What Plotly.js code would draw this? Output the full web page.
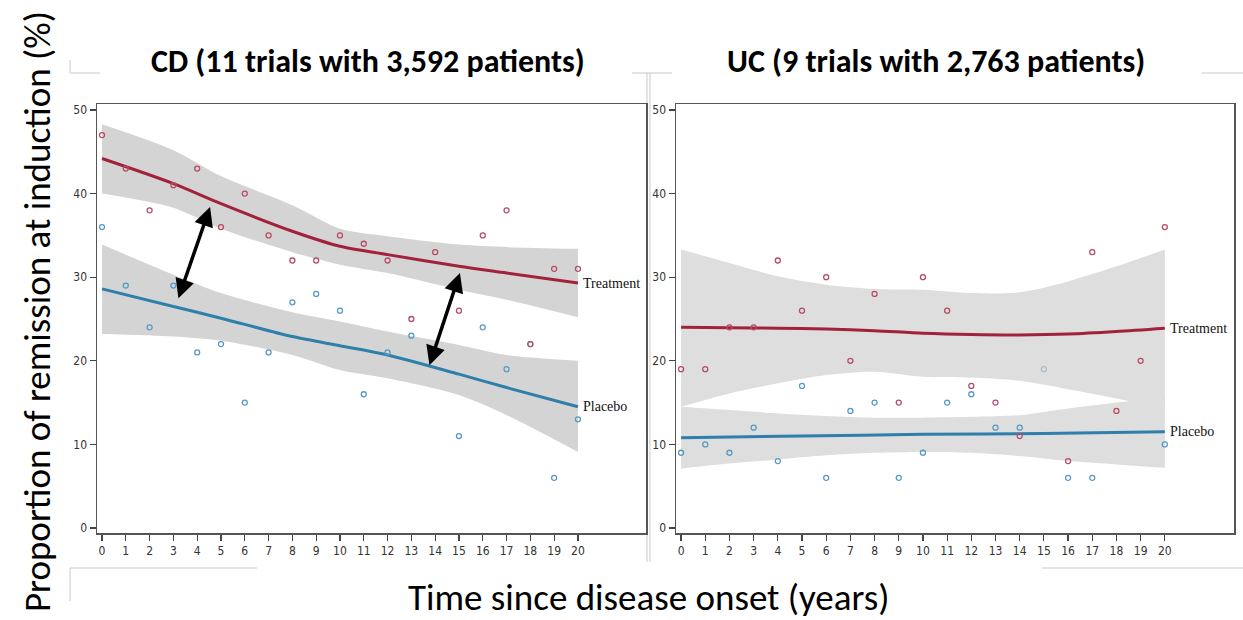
<!DOCTYPE html>
<html>
<head>
<meta charset="utf-8">
<script src="https://cdn.plot.ly/plotly-3.0.1.min.js"></script>
<style>
  html, body { margin: 0; padding: 0; background: #ffffff; }
  #chart { width: 1243px; height: 620px; }
</style>
</head>
<body>
<div id="chart"></div>
<script>
// ---- Crohn's disease (CD): observed remission rates by years since onset ----
const cdTreatX   = [0,1,2,3,4,5,6,7,8,9,10,11,12,13,14,15,16,17,18,19,20];
const cdTreatY   = [47,43,38,41,43,36,40,35,32,32,35,34,32,25,33,26,35,38,22,31,31];
const cdPlaceboX = [0,1,2,3,4,5,6,7,8,9,10,11,12,13,15,16,17,18,19,20];
const cdPlaceboY = [36,29,24,29,21,22,15,21,27,28,26,16,21,23,11,24,19,22,6,13];

// CD fitted curves and 95% confidence bands
const cdFitX          = [0,3,5,8,10,12,15,17,20];
const cdTreatFit      = [44.2,41.2,38.8,35.5,33.7,32.7,31.3,30.5,29.3];
const cdTreatUpper    = [48.3,45.2,42.1,38.6,35.8,34.9,33.9,33.6,33.4];
const cdTreatLower    = [40.0,38.3,35.8,33.0,31.5,30.5,28.5,27.3,25.2];
const cdPlaceboFit    = [28.6,26.5,25.1,22.9,21.8,20.7,18.4,16.8,14.5];
const cdPlaceboUpper  = [33.9,30.3,28.1,25.8,24.7,23.5,21.9,20.7,20.0];
const cdPlaceboLower  = [23.2,22.9,22.4,20.7,18.9,17.9,15.9,13.5,9.1];

// ---- Ulcerative colitis (UC): observed remission rates ----
const ucTreatX   = [0,1,2,3,4,5,6,7,8,9,10,11,12,13,14,16,17,18,19,20];
const ucTreatY   = [19,19,24,24,32,26,30,20,28,15,30,26,17,15,11,8,33,14,20,36];
const ucPlaceboX = [0,1,2,3,4,5,6,7,8,9,10,11,12,13,14,16,17,20];
const ucPlaceboY = [9,10,9,12,8,17,6,14,15,6,9,15,16,12,12,6,6,10];
const ucPaleX    = [15];
const ucPaleY    = [19];

// UC fitted curves and 95% confidence bands
const ucFitX          = [0,2,4,6,8,10,12,14,16,18,20];
const ucTreatFit      = [24.0,23.95,23.9,23.8,23.6,23.3,23.15,23.1,23.2,23.5,23.9];
const ucTreatUpper    = [33.3,31.7,30.1,29.1,28.6,28.5,28.1,28.2,29.5,31.3,33.3];
const ucTreatLower    = [14.5,16.1,17.3,18.3,18.7,18.1,18.0,17.6,16.6,15.5,14.4];
const ucPlaceboFitX   = [0,5,10,15,20];
const ucPlaceboFit    = [10.8,11.0,11.2,11.3,11.5];
const ucPlaceboUpper  = [14.5,14.1,13.7,13.4,13.2,13.2,13.3,13.5,14.3,15.0,15.8];
const ucPlaceboLower  = [7.1,7.7,8.2,8.7,9.0,9.1,9.0,8.6,8.0,7.6,7.2];

// Axis tick values
const yTicks = [0,10,20,30,40,50];
const xTicks = [0,1,2,3,4,5,6,7,8,9,10,11,12,13,14,15,16,17,18,19,20];

const panelTitles = ['CD (11 trials with 3,592 patients)', 'UC (9 trials with 2,763 patients)'];
const yTitle = 'Proportion of remission at induction (%)';
const xTitle = 'Time since disease onset (years)';
const seriesNames = ['Treatment', 'Placebo'];

// ---- styling ----
const RED_LINE = '#a3223b', BLUE_LINE = '#2f7fab';
const RED_PT = '#b84a64', BLUE_PT = '#5799c4', PALE_PT = '#a9bccb';
const CD_BAND = '#d4d4d4', UC_BAND = '#dedede';
const TICK_FONT = {family: '"Liberation Sans Narrow", "DejaVu Sans Condensed", sans-serif', size: 12, color: '#333'};
const HEAD_FONT = 'Carlito, "Liberation Sans Narrow", "DejaVu Sans Condensed", sans-serif';

function band(x, lo, hi, color, xa, ya) {
  return [
    {x: x, y: lo, xaxis: xa, yaxis: ya, type: 'scatter', mode: 'lines',
     line: {width: 0, shape: 'spline', smoothing: 0.8}, hoverinfo: 'skip', showlegend: false},
    {x: x, y: hi, xaxis: xa, yaxis: ya, type: 'scatter', mode: 'lines', fill: 'tonexty',
     fillcolor: color, line: {width: 0, shape: 'spline', smoothing: 0.8}, hoverinfo: 'skip', showlegend: false}
  ];
}
function fit(x, y, color, xa, ya) {
  return {x: x, y: y, xaxis: xa, yaxis: ya, type: 'scatter', mode: 'lines',
          line: {color: color, width: 3, shape: 'spline', smoothing: 0.8}, showlegend: false};
}
function pts(x, y, color, xa, ya) {
  return {x: x, y: y, xaxis: xa, yaxis: ya, type: 'scatter', mode: 'markers',
          marker: {symbol: 'circle-open', size: 5, color: color, line: {width: 1.3, color: color}},
          showlegend: false};
}

const traces = [].concat(
  band(cdFitX, cdTreatLower, cdTreatUpper, CD_BAND, 'x', 'y'),
  band(cdFitX, cdPlaceboLower, cdPlaceboUpper, CD_BAND, 'x', 'y'),
  band(ucFitX, ucTreatLower, ucTreatUpper, UC_BAND, 'x2', 'y2'),
  band(ucFitX, ucPlaceboLower, ucPlaceboUpper, UC_BAND, 'x2', 'y2'),
  [
    fit(cdFitX, cdTreatFit, RED_LINE, 'x', 'y'),
    fit(cdFitX, cdPlaceboFit, BLUE_LINE, 'x', 'y'),
    fit(ucFitX, ucTreatFit, RED_LINE, 'x2', 'y2'),
    fit(ucPlaceboFitX, ucPlaceboFit, BLUE_LINE, 'x2', 'y2'),
    pts(cdPlaceboX, cdPlaceboY, BLUE_PT, 'x', 'y'),
    pts(cdTreatX, cdTreatY, RED_PT, 'x', 'y'),
    pts(ucPlaceboX, ucPlaceboY, BLUE_PT, 'x2', 'y2'),
    pts(ucTreatX, ucTreatY, RED_PT, 'x2', 'y2'),
    pts(ucPaleX, ucPaleY, PALE_PT, 'x2', 'y2')
  ]
);

const W = 1243, H = 620;
const px = v => v / W;
const py = v => 1 - v / H;

function xAxis(domain, anchor) {
  return {domain: domain, anchor: anchor, range: [-0.21, 22.86], tickmode: 'array', tickvals: xTicks,
          ticks: 'outside', ticklen: 6, tickwidth: 1.2, tickcolor: '#444', tickfont: TICK_FONT,
          showline: true, linecolor: '#555', linewidth: 1.5, mirror: true,
          showgrid: false, zeroline: false, fixedrange: true};
}
function yAxis(domain, anchor) {
  return {domain: domain, anchor: anchor, range: [-0.6, 50.72], tickmode: 'array', tickvals: yTicks,
          ticks: 'outside', ticklen: 6, tickwidth: 1.2, tickcolor: '#444', tickfont: TICK_FONT,
          showline: true, linecolor: '#555', linewidth: 1.5, mirror: true,
          showgrid: false, zeroline: false, fixedrange: true};
}

const endLabel = (xa, ya, x, y, text) => ({
  xref: xa, yref: ya, x: x, y: y, text: text, showarrow: false, xanchor: 'left', yanchor: 'middle', xshift: 3,
  font: {family: '"Liberation Serif", "DejaVu Serif", serif', size: 14, color: '#111'}
});
const doubleArrow = (x0, y0, x1, y1) => ({
  xref: 'x', yref: 'y', axref: 'x', ayref: 'y', x: x1, y: y1, ax: x0, ay: y0, text: '',
  showarrow: true, arrowside: 'end+start', arrowhead: 2, startarrowhead: 2,
  arrowwidth: 3.5, arrowsize: 1.1, startarrowsize: 1.1, arrowcolor: '#000',
  standoff: 0, startstandoff: 0
});

const decoLine = (x0, y0, x1, y1) => ({
  type: 'line', xref: 'paper', yref: 'paper', x0: px(x0), y0: py(y0), x1: px(x1), y1: py(y1),
  line: {color: '#c9c9c9', width: 1}, layer: 'below'
});

const last = a => a[a.length - 1];

const layout = {
  width: W, height: H,
  margin: {l: 0, r: 0, t: 0, b: 0},
  paper_bgcolor: '#ffffff', plot_bgcolor: '#ffffff',
  showlegend: false,
  xaxis: xAxis([px(97), px(646)], 'y'),
  yaxis: yAxis([py(533), py(104)], 'x'),
  xaxis2: xAxis([px(676), px(1234)], 'y2'),
  yaxis2: yAxis([py(533), py(104)], 'x2'),
  annotations: [
    {xref: 'paper', yref: 'paper', x: px(368), y: py(62), text: '<b>' + panelTitles[0] + '</b>', showarrow: false,
     xanchor: 'center', yanchor: 'middle', font: {family: HEAD_FONT, size: 32, color: '#000'}},
    {xref: 'paper', yref: 'paper', x: px(936), y: py(62), text: '<b>' + panelTitles[1] + '</b>', showarrow: false,
     xanchor: 'center', yanchor: 'middle', font: {family: HEAD_FONT, size: 32, color: '#000'}},
    {xref: 'paper', yref: 'paper', x: px(38), y: py(312), text: yTitle, textangle: -90, showarrow: false,
     xanchor: 'center', yanchor: 'middle', font: {family: HEAD_FONT, size: 37, color: '#000'}},
    {xref: 'paper', yref: 'paper', x: px(648), y: py(597), text: xTitle, showarrow: false,
     xanchor: 'center', yanchor: 'middle', font: {family: HEAD_FONT, size: 37, color: '#000'}},
    endLabel('x', 'y', last(cdFitX), last(cdTreatFit), seriesNames[0]),
    endLabel('x', 'y', last(cdFitX), last(cdPlaceboFit), seriesNames[1]),
    endLabel('x2', 'y2', last(ucFitX), last(ucTreatFit), seriesNames[0]),
    endLabel('x2', 'y2', last(ucPlaceboFitX), last(ucPlaceboFit), seriesNames[1]),
    doubleArrow(3.19, 27.3, 4.54, 38.4),
    doubleArrow(13.74, 19.3, 15.04, 30.5)
  ],
  shapes: [
    decoLine(70, 60, 70, 73), decoLine(70, 73, 100, 73),
    decoLine(632, 73, 672, 73), decoLine(647, 73, 647, 562), decoLine(650, 73, 650, 562),
    decoLine(1202, 73, 1243, 73),
    decoLine(70, 568, 257, 568), decoLine(70, 568, 70, 601),
    decoLine(1042, 568, 1243, 568)
  ]
};

Plotly.newPlot('chart', traces, layout, {displayModeBar: false, staticPlot: true});
</script>
</body>
</html>
